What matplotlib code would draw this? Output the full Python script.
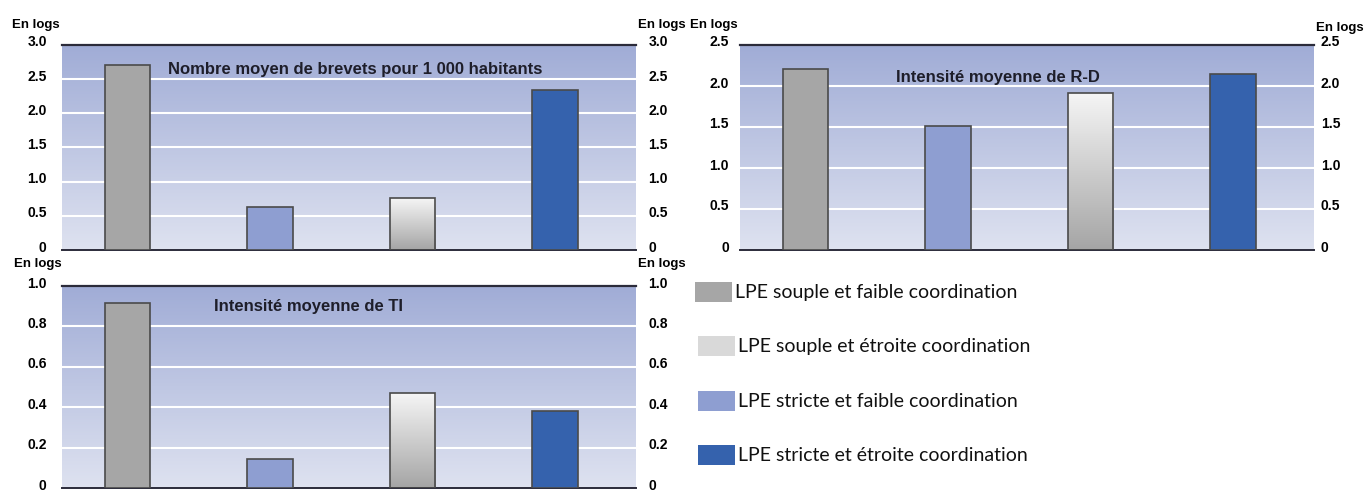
import matplotlib.pyplot as plt
import numpy as np
from matplotlib import transforms
from matplotlib.patches import Rectangle

# bar order as drawn in each panel
bar_labels = ["LPE souple et faible coordination", "LPE stricte et faible coordination",
              "LPE souple et étroite coordination", "LPE stricte et étroite coordination"]
brevets = [2.71, 0.63, 0.76, 2.34]
rd = [2.21, 1.51, 1.91, 2.15]
ti = [0.914, 0.146, 0.47, 0.383]

titles = ["Nombre moyen de brevets pour 1 000 habitants", "Intensité moyenne de R-D",
          "Intensité moyenne de TI"]
ticks_brevets = [0, 0.5, 1.0, 1.5, 2.0, 2.5, 3.0]
ticks_rd = [0, 0.5, 1.0, 1.5, 2.0, 2.5]
ticks_ti = [0, 0.2, 0.4, 0.6, 0.8, 1.0]
legend_order = [0, 2, 1, 3]

colors = ["#a6a6a6", "#8e9ed1", None, "#3562ad"]
edge = "#4a4a4a"
tick_font = dict(family=["Liberation Sans Narrow", "Liberation Sans", "DejaVu Sans"],
                 weight="bold", size=10)

fig = plt.figure(figsize=(13.68, 4.90), dpi=100)
W, H = 1368, 490


def make_panel(rect_px, vals, ticks, title, tx, ty, lpad, rpad):
    x0, y0, x1, y1 = rect_px
    ax = fig.add_axes([x0 / W, 1 - y1 / H, (x1 - x0) / W, (y1 - y0) / H])
    top = ticks[-1]
    xlim = (-0.46, 3.57)
    # background gradient
    grad = np.linspace(0, 1, 256).reshape(-1, 1)
    c_top = np.array([160, 172, 214]) / 255
    c_bot = np.array([222, 226, 240]) / 255
    img = c_top[None, None, :] * (1 - grad[:, :, None]) + c_bot[None, None, :] * grad[:, :, None]
    ax.imshow(img, extent=(xlim[0], xlim[1], 0, top), aspect="auto", zorder=-2,
              interpolation="bilinear")
    ax.set_xlim(*xlim)
    ax.set_ylim(0, top)
    ax.set_yticks(ticks)
    ax.set_yticklabels([("%g" % t) if t == 0 else "%.1f" % t for t in ticks], **tick_font)
    ax.set_xticks([])
    ax.grid(axis="y", color="white", linewidth=1.5)
    ax.set_axisbelow(True)
    for s in ["left", "right"]:
        ax.spines[s].set_visible(False)
    ax.spines["top"].set_color("#2b2b3a")
    ax.spines["top"].set_linewidth(1.6)
    ax.spines["bottom"].set_color("#2b2b3a")
    ax.spines["bottom"].set_linewidth(1.4)
    ax.tick_params(axis="y", length=0, pad=lpad, left=True, right=False,
                   labelleft=True, labelright=False)
    bars = ax.bar(range(len(vals)), vals, width=0.32, edgecolor=edge, linewidth=1.2, zorder=3)
    for b, c in zip(bars, colors):
        if c is None:
            b.set_facecolor("none")
            g = np.linspace(0, 1, 128).reshape(-1, 1)
            ct = np.array([245, 245, 245]) / 255
            cb = np.array([165, 165, 165]) / 255
            gi = ct[None, None, :] * (1 - g[:, :, None]) + cb[None, None, :] * g[:, :, None]
            bx, bw, bh = b.get_x(), b.get_width(), b.get_height()
            im = ax.imshow(gi, extent=(bx, bx + bw, 0, bh), aspect="auto", zorder=2.5,
                           interpolation="bilinear")
            im.set_clip_path(b)
        else:
            b.set_facecolor(c)
    ax.set_xlim(*xlim)
    ax.set_ylim(0, top)
    # right-hand duplicate axis
    axr = ax.twinx()
    axr.set_ylim(0, top)
    axr.set_yticks(ticks)
    axr.set_yticklabels([("%g" % t) if t == 0 else "%.1f" % t for t in ticks], **tick_font)
    axr.tick_params(axis="y", length=0, pad=rpad)
    for s in axr.spines.values():
        s.set_visible(False)
    off = transforms.ScaledTranslation(0, 4 / 100, fig.dpi_scale_trans)
    for lab in ax.get_yticklabels() + axr.get_yticklabels():
        lab.set_transform(lab.get_transform() + off)
    ax.text(tx, ty, title, transform=ax.transAxes, ha="center", va="center",
            fontsize=12, fontweight="bold", color="#1e1e2a",
            family=["Liberation Sans", "DejaVu Sans"])
    return ax


ax1 = make_panel((62, 45, 636, 250), brevets, ticks_brevets, titles[0], 0.51, 0.88, 11, 9)
ax2 = make_panel((740, 45, 1314, 250), rd, ticks_rd, titles[1], 0.45, 0.84, 8, 5)
ax3 = make_panel((62, 286, 636, 488), ti, ticks_ti, titles[2], 0.43, 0.90, 11, 9)

en_font = dict(family=["Liberation Sans Narrow", "Liberation Sans", "DejaVu Sans"],
               weight="bold", size=9.5, va="center", ha="center")
for (x, y) in [(36, 25), (662, 25), (714, 25), (1340, 28), (38, 264), (662, 264)]:
    fig.text(x / W, 1 - y / H, "En logs", **en_font)

# legend
leg_y = [292, 346, 401, 455]
leg_x = [695, 698, 698, 698]
for k, i in enumerate(legend_order):
    fc = colors[i] if colors[i] is not None else "#d9d9d9"
    fig.patches.append(Rectangle((leg_x[k] / W, 1 - (leg_y[k] + 10) / H), 37 / W, 20 / H,
                                 facecolor=fc, edgecolor="none", transform=fig.transFigure))
    fig.text((leg_x[k] + 40) / W, 1 - leg_y[k] / H, bar_labels[i], ha="left", va="center",
             fontsize=14, family=["Lato", "DejaVu Sans"], color="#111111")

fig.savefig("out.png", dpi=100)
